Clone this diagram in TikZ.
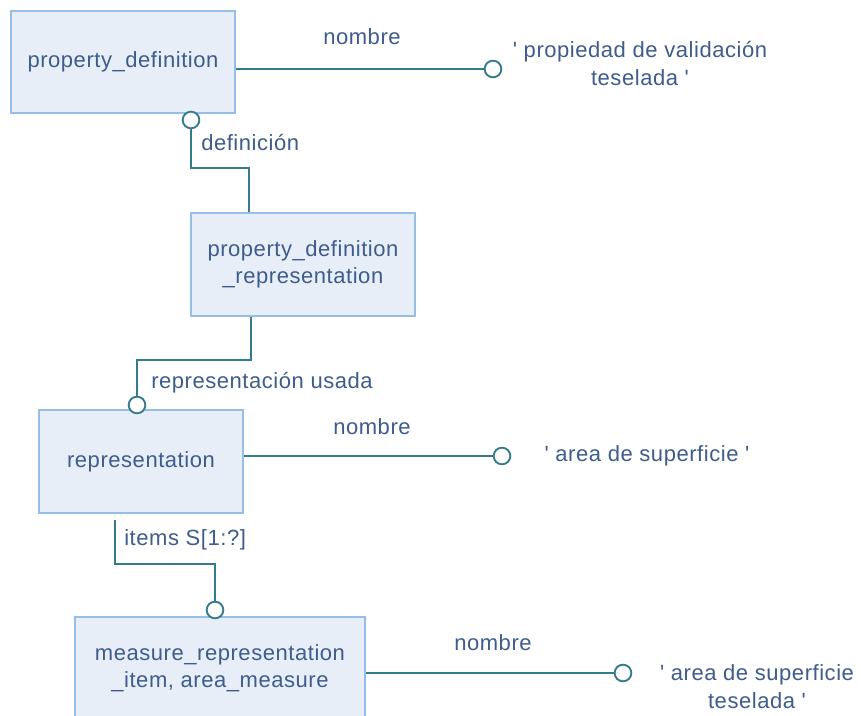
\documentclass[tikz,border=0pt]{standalone}
\usepackage{fontspec}
\setmainfont{Liberation Sans}[LetterSpace=2.5]
\definecolor{boxfill}{RGB}{231,238,248}
\definecolor{boxline}{RGB}{150,190,230}
\definecolor{conn}{RGB}{52,124,140}
\definecolor{txt}{RGB}{62,92,140}
\tikzset{
  ent/.style={draw=boxline, line width=1.3pt, fill=boxfill, text=txt, align=center, inner sep=0pt, font=\fontsize{16.5}{20}\selectfont},
  lab/.style={text=txt, inner sep=0pt, font=\fontsize{16.5}{20}\selectfont},
  val/.style={text=txt, inner sep=0pt, align=center, font=\fontsize{16.5}{21}\selectfont},
  ring/.style={circle, draw=conn, line width=1.4pt, fill=white, minimum size=12.5pt, inner sep=0pt},
  link/.style={draw=conn, line width=1.5pt}
}
\begin{document}
\begin{tikzpicture}[x=0.75pt, y=-0.75pt]
\path[use as bounding box] (0,0) rectangle (861,716);
\clip (0,0) rectangle (861,716);
\fill[white] (0,0) rectangle (861,716);

% entities
\node[ent, minimum width=168pt, minimum height=76.5pt] (pd) at (123,62) {property\_definition};
\node[ent, minimum width=168pt, minimum height=77pt] (pdr) at (303,264.5) {property\_definition\\\_representation};
\node[ent, minimum width=153pt, minimum height=77pt] (rep) at (141,461.5) {representation};
\node[ent, minimum width=217.5pt, minimum height=77pt] (mri) at (220,668.5) {measure\_representation\\\_item, area\_measure};

% rings
\node[ring] (r1) at (493,69) {};
\node[ring] (r2) at (191,120) {};
\node[ring] (r3) at (137,405) {};
\node[ring] (r4) at (502,456) {};
\node[ring] (r5) at (215,610) {};
\node[ring] (r6) at (623,673) {};

% helper coordinates
\coordinate (a1) at (191,168);
\coordinate (a2) at (249,168);
\coordinate (b1) at (251,360);
\coordinate (b2) at (137,360);
\coordinate (c0) at (115,520);
\coordinate (c1) at (115,564);
\coordinate (c2) at (215,564);

% connectors
\draw[link] (pd.east |- r1) -- (r1.west);
\draw[link] (r2.south) -- (a1) -- (a2) -- (a2 |- pdr.north);
\draw[link] (b1 |- pdr.south) -- (b1) -- (b2) -- (r3.north);
\draw[link] (rep.east |- r4) -- (r4.west);
\draw[link] (c0) -- (c1) -- (c2) -- (r5.north);
\draw[link] (mri.east |- r6) -- (r6.west);

% labels
\node[lab] (n1) at (362,37) {nombre};
\node[val] (v1) at (640,64) {\textquotesingle{} propiedad de validación\\teselada \textquotesingle};
\node[lab, anchor=west] (l1) at (201,143) {definición};
\node[lab, anchor=west] (l2) at (151,383) {representación usada};
\node[lab] (n2) at (372,427) {nombre};
\node[val] (v2) at (647,456) {\textquotesingle{} area de superficie \textquotesingle};
\node[lab, anchor=west] (l3) at (124,540) {items S[1:?]};
\node[lab] (n3) at (493,643) {nombre};
\node[val] (v3) at (757,686.5) {\textquotesingle{} area de superficie\\teselada \textquotesingle};
\end{tikzpicture}
\end{document}
